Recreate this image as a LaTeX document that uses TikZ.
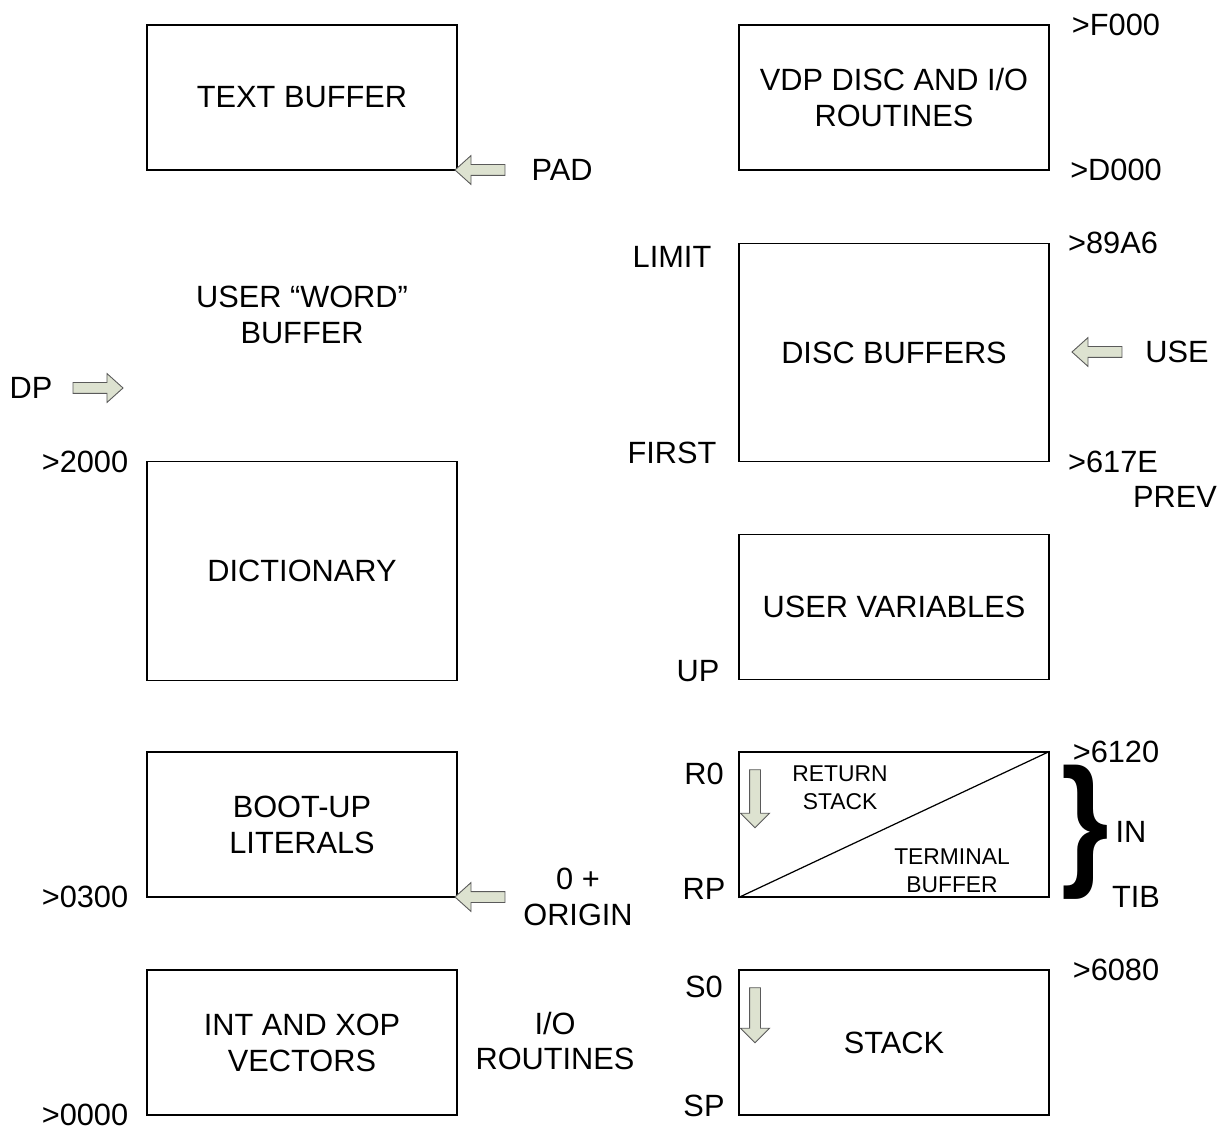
\documentclass[tikz,border=0pt]{standalone}
\usepackage{fontspec}
\setmainfont{Liberation Sans}
\usepackage{tikz}
\usetikzlibrary{shapes.arrows}
\definecolor{ptfill}{RGB}{221,226,208}
\definecolor{ptline}{RGB}{90,90,90}

\begin{document}
\begin{tikzpicture}[x=0.02cm, y=-0.02cm,
  every node/.style={font=\fontsize{17.5}{20.4}\selectfont, align=center},
  bx/.style={draw, line width=0.7pt, minimum width=6.2cm, minimum height=2.9cm},
  tall/.style={bx, minimum height=4.37cm},
  sm/.style={font=\fontsize{13}{15.9}\selectfont},
  pt/.style={single arrow, draw=ptline, fill=ptfill, line width=0.5pt,
             inner sep=0.1cm, single arrow head extend=0.18cm,
             single arrow tip angle=84, minimum height=1cm}]
  \useasboundingbox (0,0) rectangle (1228,1131);
  % left column
  \node[bx] (txt) at (302,97.5) {TEXT BUFFER};
  \node (word) at (302,315) {USER “WORD”\\BUFFER};
  \node[tall] (dict) at (302,571) {DICTIONARY};
  \node[bx] (boot) at (302,824.5) {BOOT-UP\\LITERALS};
  \node[bx] (vec) at (302,1042.5) {INT AND XOP\\VECTORS};
  \node (pad) at (562,170) {PAD};
  \node[pt, rotate=180] (padp) at (483,170) {};
  \node (dp) at (31,388) {DP};
  \node[pt] (dpp) at (95,388) {};
  \node (a2000) at (85,462) {>2000};
  \node (a0300) at (85,897) {>0300};
  \node (a0000) at (85,1115) {>0000};
  \node (orig) at (578,897) {0 +\\ORIGIN};
  \node[pt, rotate=180] (origp) at (483,897) {};
  \node (io) at (555,1041) {I/O\\ROUTINES};
  % right column
  \node[bx] (vdp) at (894,97.5) {VDP DISC AND I/O\\ROUTINES};
  \node[tall] (disc) at (894,352.5) {DISC BUFFERS};
  \node[bx] (uvar) at (894,607) {USER VARIABLES};
  \node[bx] (rstk) at (894,824.5) {};
  \node[bx] (stk) at (894,1042.5) {STACK};
  \draw[line width=0.7pt] (rstk.south west) -- (rstk.north east);
  \node[sm] (ret) at (840,788) {RETURN\\STACK};
  \node[sm] (term) at (952,871) {TERMINAL\\BUFFER};
  \node[pt, rotate=270, minimum height=1.16cm, single arrow tip angle=90] (r0p) at (755,796) {};
  \node[pt, rotate=270, minimum height=1.1cm, single arrow tip angle=90] (s0p) at (755,1012.5) {};
  \node (f000) at (1116,25) {>F000};
  \node (d000) at (1116,170) {>D000};
  \node (limit) at (672,257) {LIMIT};
  \node (first) at (672,453) {FIRST};
  \node (a89a6) at (1113,243) {>89A6};
  \node (a617e) at (1113,462) {>617E};
  \node (prev) at (1175,497) {PREV};
  \node (use) at (1177,352) {USE};
  \node[pt, rotate=180] (usep) at (1100,352) {};
  \node (up) at (698,671) {UP};
  \node (r0) at (704,774) {R0};
  \node (rp) at (704,889) {RP};
  \node (a6120) at (1116,752) {>6120};
  \node[xscale=0.85] (brc) at (1085,832) {\fontsize{82}{82}\selectfont\bfseries\}};
  \node (in) at (1131,832) {IN};
  \node (tib) at (1136,897) {TIB};
  \node (s0) at (704,987) {S0};
  \node (sp) at (704,1106) {SP};
  \node (a6080) at (1116,970) {>6080};
\end{tikzpicture}
\end{document}
